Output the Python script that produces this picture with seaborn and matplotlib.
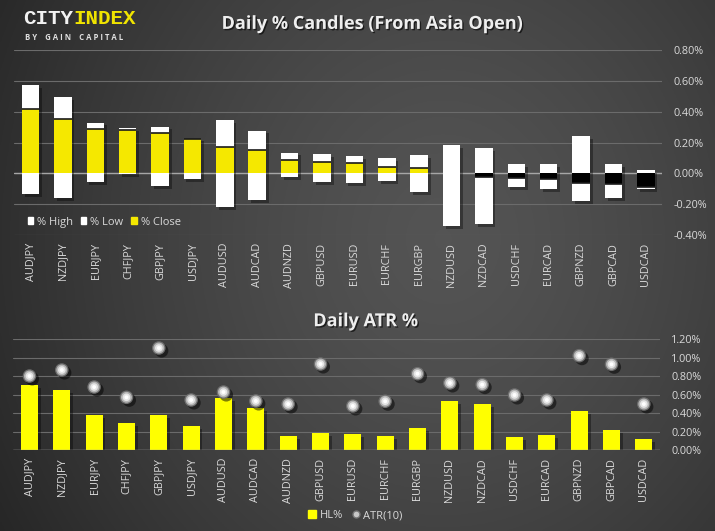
import numpy as np
import pandas as pd
import matplotlib
matplotlib.use("Agg")
import matplotlib.pyplot as plt
import matplotlib.patheffects as pe
from matplotlib.patches import Patch
from matplotlib.lines import Line2D
from matplotlib.ticker import FuncFormatter
import seaborn as sns

pairs = ["AUDJPY", "NZDJPY", "EURJPY", "CHFJPY", "GBPJPY", "USDJPY", "AUDUSD", "AUDCAD",
         "AUDNZD", "GBPUSD", "EURUSD", "EURCHF", "EURGBP", "NZDUSD", "NZDCAD", "USDCHF",
         "EURCAD", "GBPNZD", "GBPCAD", "USDCAD"]
high = [0.575, 0.497, 0.329, 0.296, 0.303, 0.226, 0.348, 0.277, 0.134, 0.127,
        0.112, 0.099, 0.119, 0.184, 0.164, 0.060, 0.060, 0.242, 0.060, 0.021]
low = [-0.134, -0.158, -0.056, -0.003, -0.082, -0.037, -0.219, -0.173, -0.024, -0.056,
       -0.063, -0.050, -0.121, -0.342, -0.329, -0.089, -0.102, -0.180, -0.162, -0.102]
close = [0.420, 0.350, 0.290, 0.279, 0.260, 0.225, 0.173, 0.149, 0.084, 0.071,
         0.068, 0.043, 0.032, 0.000, -0.023, -0.032, -0.039, -0.061, -0.067, -0.091]
hl = [0.706, 0.652, 0.382, 0.295, 0.382, 0.263, 0.565, 0.457, 0.155, 0.187,
      0.176, 0.155, 0.241, 0.533, 0.500, 0.144, 0.166, 0.425, 0.220, 0.122]
atr = [0.803, 0.868, 0.684, 0.573, 1.106, 0.544, 0.630, 0.533, 0.500, 0.933,
       0.479, 0.530, 0.828, 0.728, 0.710, 0.598, 0.544, 1.023, 0.930, 0.500]

top_ticks = [-0.4, -0.2, 0.0, 0.2, 0.4, 0.6, 0.8]
bot_ticks = [0.0, 0.2, 0.4, 0.6, 0.8, 1.0, 1.2]

sns.set_theme(style="dark")
plt.rcParams["font.family"] = ["Open Sans", "DejaVu Sans"]

TXT = "#d9d9d9"
GRID = "#6b6b6b"
YEL_TOP = "#f5e800"
YEL_BOT = "#ffff00"

df = pd.DataFrame({"pair": pairs, "high": high, "low": low, "close": close,
                   "hl": hl, "atr": atr})
df["range"] = df["high"] - df["low"]

fig = plt.figure(figsize=(7.15, 5.31), dpi=100)

# background gradient
bg = fig.add_axes([0, 0, 1, 1], zorder=-10)
xx, yy = np.meshgrid(np.linspace(0, 1, 400), np.linspace(0, 1, 300))
d = np.sqrt(((xx - 0.62) / 0.72) ** 2 + ((yy - 0.55) / 1.1) ** 2)
val = 0.33 - 0.18 * np.clip(d, 0, 1) ** 1.4
bg.imshow(np.dstack([val, val, val]), aspect="auto", extent=[0, 1, 0, 1], origin="lower")
bg.set_axis_off()

shadow = [pe.SimplePatchShadow(offset=(2, -2), shadow_rgbFace="black", alpha=0.35), pe.Normal()]

def style_axes(ax, ticks):
    ax.set_facecolor("none")
    for s in ax.spines.values():
        s.set_visible(False)
    ax.yaxis.tick_right()
    ax.set_yticks(ticks)
    ax.yaxis.set_major_formatter(FuncFormatter(lambda v, p: f"{v:.2f}%"))
    ax.tick_params(axis="y", colors=TXT, labelsize=7.8, length=0, pad=8)
    ax.tick_params(axis="x", colors=TXT, labelsize=7.8, length=0, rotation=90, pad=5.5)
    ax.grid(False)
    for t in ticks:
        ax.axhline(t, color=GRID, lw=0.8, zorder=0)
    ax.set_xlabel("")
    ax.set_ylabel("")

# ---- top chart: candles ----
ax1 = fig.add_axes([0.02, 0.5574, 0.906, 0.3483])
sns.barplot(data=df, x="pair", y="range", bottom=df["low"].values, color="white",
            saturation=1, width=0.54, ax=ax1, zorder=3, linewidth=0, edgecolor="none")
for p in ax1.patches:
    p.set_path_effects(shadow)
ccols = [YEL_TOP if c >= 0 else "black" for c in close]
xpos = np.arange(len(pairs))
ax1.bar(xpos, close, width=0.54, color=ccols, zorder=4, linewidth=0)
mask = np.abs(np.array(close)) > 0.005
ax1.hlines(np.array(close)[mask], xpos[mask] - 0.27, xpos[mask] + 0.27,
           colors="#1a1a1a", lw=1.2, zorder=5)
style_axes(ax1, top_ticks)
ax1.axhline(0, color="#a6a6a6", lw=1.0, zorder=1)
ax1.set_ylim(-0.4, 0.8)
ax1.set_xlim(-0.5, len(pairs) - 0.5)
ax1.legend(handles=[Patch(color="white", label="% High"),
                    Patch(color="white", label="% Low"),
                    Patch(color=YEL_TOP, label="% Close")],
           loc="center left", bbox_to_anchor=(0.005, 0.07), ncol=3, frameon=False,
           fontsize=8, handlelength=0.5, handleheight=0.5, handletextpad=0.35,
           columnspacing=0.7, labelcolor=TXT)

# ---- bottom chart: ATR ----
ax2 = fig.add_axes([0.0186, 0.152, 0.9045, 0.209])
sns.barplot(data=df, x="pair", y="hl", color=YEL_BOT, saturation=1, width=0.53,
            ax=ax2, zorder=3, linewidth=0, edgecolor="none")
for p in ax2.patches:
    p.set_path_effects(shadow)
sns.scatterplot(data=df, x="pair", y="atr", s=95, color="#6e6e6e", edgecolor="none",
                ax=ax2, zorder=5, legend=False)
ax2.collections[-1].set_path_effects([pe.SimplePatchShadow(offset=(2, -2), shadow_rgbFace="black", alpha=0.5), pe.Normal()])
sns.scatterplot(data=df, x="pair", y="atr", s=62, color="#b5b5b5", edgecolor="none",
                ax=ax2, zorder=6, legend=False)
sns.scatterplot(data=df, x="pair", y="atr", s=30, color="#e6e6e6", edgecolor="none",
                ax=ax2, zorder=7, legend=False)
sns.scatterplot(data=df, x="pair", y="atr", s=8, color="white", edgecolor="none",
                ax=ax2, zorder=8, legend=False)
style_axes(ax2, bot_ticks)
ax2.axhline(0, color="#a6a6a6", lw=1.0, zorder=4)
ax2.set_ylim(0, 1.2)
ax2.set_xlim(-0.5, len(pairs) - 0.5)

fig.legend(handles=[Patch(color=YEL_BOT, label="HL%"),
                    Line2D([], [], marker="o", ls="none", color="#c8c8c8",
                           markeredgecolor="#777777", markersize=5, label="ATR(10)")],
           loc="center", bbox_to_anchor=(0.497, 0.029), ncol=2, frameon=False,
           fontsize=8, handlelength=0.7, handleheight=0.7, handletextpad=0.3,
           columnspacing=0.8, labelcolor=TXT)

# ---- titles & logo ----
tshadow = [pe.withSimplePatchShadow(offset=(1, -1), shadow_rgbFace="black", alpha=0.6)]
fig.text(0.519, 0.955, "Daily % Candles (From Asia Open)", ha="center", va="center",
         fontsize=13, fontweight="bold", color="#eeeeee", path_effects=tshadow)
fig.text(0.511, 0.395, "Daily ATR %", ha="center", va="center",
         fontsize=13, fontweight="bold", color="#eeeeee", path_effects=tshadow)

fig.text(0.032, 0.965, "CITY", ha="left", va="center", fontsize=15, fontweight="bold",
         family="Liberation Mono", color="#f2f2f2")
fig.text(0.032 + 0.0705, 0.965, "INDEX", ha="left", va="center", fontsize=15,
         fontweight="bold", family="Liberation Mono", color="#f0e400")
fig.text(0.035, 0.93, "B Y    G A I N    C A P I T A L", ha="left", va="center",
         fontsize=5.6, fontweight="bold", color="#e0e0e0")

fig.savefig("out.png", dpi=100)
